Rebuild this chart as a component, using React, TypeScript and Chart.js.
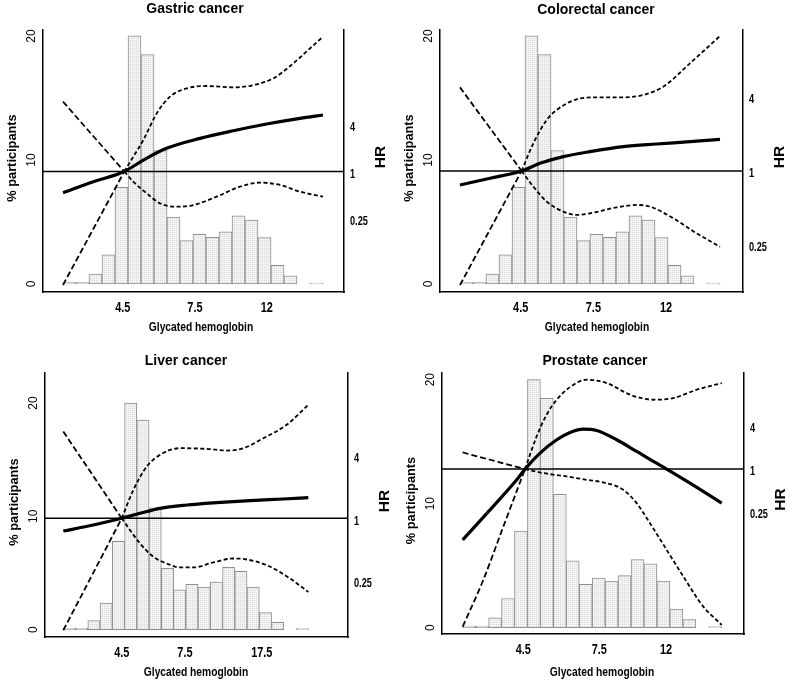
import React, { useEffect, useRef } from 'react';
import { Chart, registerables } from 'chart.js';

Chart.register(...registerables);

const W = 787;
const H = 682;
const SANS = '"Liberation Sans", Arial, sans-serif';

// ---------- data ----------
// Histogram of participants (%) across glycated haemoglobin bins (bin index axis)
const binCenters = [0.5, 1.5, 2.5, 3.5, 4.5, 5.5, 6.5, 7.5, 8.5, 9.5, 10.5, 11.5, 12.5, 13.5, 14.5, 15.5, 16.5, 17.5, 18.5, 19.5];
const participantsPct = [0.12, 0.12, 0.8, 2.35, 7.8, 20, 18.5, 10.75, 5.4, 3.5, 4.0, 3.76, 4.2, 5.5, 5.15, 3.75, 1.5, 0.65, 0, 0.08];

const pctTicks = [0, 10, 20];
const hrTicks = [0.25, 1, 4];
const hrTickLabels = ['0.25', '1', '4'];
const refHR = 1;

const titles = ['Gastric cancer', 'Colorectal cancer', 'Liver cancer', 'Prostate cancer'];
const xTitle = 'Glycated hemoglobin';
const yTitle = '% participants';
const hrTitle = 'HR';

const xTickLabelsStd = ['4.5', '7.5', '12'];
const xTickLabelsLiver = ['4.5', '7.5', '17.5'];
const gastricTickPos = [4.6, 10.15, 15.67];
const colorectalTickPos = [4.67, 10.26, 15.85];
const liverTickPos = [4.77, 9.93, 16.2];
const prostateTickPos = [4.68, 10.55, 15.7];

// Gastric cancer
const gastricCross = 4.72;
const gastricMainX = [0, 2.33, 4.72, 6.18, 7.97, 10.54, 13.1, 15.67, 18.23, 20];
const gastricMainHR = [0.536, 0.741, 1.0, 1.4, 1.98, 2.66, 3.33, 4.06, 4.8, 5.29];
const gastricUpX = [0, 4.72, 5.41, 6.18, 7.21, 8.23, 9.51, 11.05, 13.1, 14.64, 16.18, 17.72, 19.0, 20];
const gastricUpHR = [7.84, 1.0, 1.55, 2.53, 5.56, 9.09, 11.6, 12.45, 11.97, 12.8, 15.6, 24.3, 37.8, 53.4];
const gastricLoX = [0, 4.72, 5.41, 6.44, 7.46, 8.74, 10.03, 11.82, 13.62, 15.15, 16.69, 18.23, 20];
const gastricLoHR = [0.0352, 1.0, 0.741, 0.525, 0.391, 0.354, 0.372, 0.476, 0.64, 0.72, 0.672, 0.552, 0.476];

// Colorectal cancer
const colorectalCross = 4.74;
const colorectalMainX = [0, 2.31, 4.74, 6.15, 7.95, 10.0, 12.56, 15.13, 17.69, 20];
const colorectalMainHR = [0.769, 0.872, 1.0, 1.154, 1.308, 1.436, 1.577, 1.658, 1.732, 1.81];
const colorectalUpX = [0, 4.74, 5.64, 6.67, 7.44, 8.97, 10.51, 12.56, 14.1, 15.64, 17.69, 20];
const colorectalUpHR = [4.79, 1.0, 1.679, 2.6, 3.136, 3.829, 3.975, 3.975, 4.153, 4.854, 7.516, 12.54];
const colorectalLoX = [0, 4.74, 5.64, 6.67, 7.95, 8.97, 10.0, 12.05, 13.59, 14.62, 16.41, 18.2, 20];
const colorectalLoHR = [0.118, 1.0, 0.746, 0.563, 0.467, 0.439, 0.452, 0.506, 0.529, 0.513, 0.412, 0.311, 0.242];

// Liver cancer
const liverCross = 4.77;
const liverMainX = [0, 2.45, 4.77, 6.26, 7.89, 10.07, 12.52, 15.24, 17.96, 20];
const liverMainHR = [0.755, 0.862, 1.0, 1.117, 1.247, 1.343, 1.415, 1.479, 1.534, 1.58];
const liverUpX = [0, 4.77, 5.72, 6.81, 7.89, 9.53, 11.7, 13.34, 14.7, 16.33, 18.23, 20];
const liverUpHR = [6.83, 1.0, 1.873, 3.143, 4.072, 4.721, 4.651, 4.482, 4.721, 5.893, 7.921, 12.34];
const liverLoX = [0, 4.77, 6.26, 7.35, 8.44, 9.53, 10.62, 12.25, 13.88, 14.97, 16.6, 18.51, 20];
const liverLoHR = [0.0839, 1.0, 0.574, 0.427, 0.368, 0.337, 0.337, 0.377, 0.411, 0.402, 0.355, 0.264, 0.196];

// Prostate cancer
const prostateCross = 4.81;
const prostateMainX = [0, 2.11, 4.17, 4.81, 5.97, 7.26, 8.29, 9.32, 10.35, 11.89, 13.43, 14.72, 15.75, 17.55, 20];
const prostateMainHR = [0.1024, 0.269, 0.708, 1.0, 1.673, 2.572, 3.258, 3.628, 3.475, 2.572, 1.766, 1.279, 1.0, 0.636, 0.334];
const prostateUpX = [0, 4.81, 5.71, 6.48, 7.26, 8.29, 9.57, 11.12, 12.92, 14.72, 16.26, 18.07, 20];
const prostateUpHR = [1.71, 1.0, 2.864, 5.758, 9.34, 14.05, 17.8, 15.98, 10.97, 9.34, 9.85, 12.89, 15.98];
const prostateLoX = [0, 1.59, 3.14, 4.81, 6.23, 8.03, 9.57, 10.86, 12.4, 13.43, 14.46, 15.75, 17.04, 18.58, 20];
const prostateLoHR = [0.00626, 0.0282, 0.1574, 1.0, 0.879, 0.789, 0.708, 0.65, 0.513, 0.334, 0.175, 0.0742, 0.0314, 0.01194, 0.00661];

// ---------- layout per panel ----------
type Area = { left: number; right: number; top: number; bottom: number };
type PanelCfg = {
  title: string;
  area: Area;
  xRange: [number, number];
  pctRange: [number, number];
  hrRange: [number, number];
  tickPos: number[];
  tickLabels: string[];
  cross: number;
  main: [number[], number[]];
  up: [number[], number[]];
  lo: [number[], number[]];
  titlePos: [number, number];
  xTitlePos: [number, number];
};

const panels: PanelCfg[] = [
  {
    title: titles[0],
    area: { left: 43, right: 344, top: 30, bottom: 292 },
    xRange: [-1.538, 21.615],
    pctRange: [-0.645, 20.48],
    hrRange: [0.0286, 65.0],
    tickPos: gastricTickPos,
    tickLabels: xTickLabelsStd,
    cross: gastricCross,
    main: [gastricMainX, gastricMainHR],
    up: [gastricUpX, gastricUpHR],
    lo: [gastricLoX, gastricLoHR],
    titlePos: [195, 9],
    xTitlePos: [201, 327],
  },
  {
    title: titles[1],
    area: { left: 440, right: 743, top: 30, bottom: 292 },
    xRange: [-1.538, 21.77],
    pctRange: [-0.645, 20.48],
    hrRange: [0.1036, 14.03],
    tickPos: colorectalTickPos,
    tickLabels: xTickLabelsStd,
    cross: colorectalCross,
    main: [colorectalMainX, colorectalMainHR],
    up: [colorectalUpX, colorectalUpHR],
    lo: [colorectalLoX, colorectalLoHR],
    titlePos: [596, 10],
    xTitlePos: [597, 327],
  },
  {
    title: titles[2],
    area: { left: 45, right: 348, top: 373, bottom: 637 },
    xRange: [-1.494, 23.24],
    pctRange: [-0.655, 22.65],
    hrRange: [0.0723, 24.94],
    tickPos: liverTickPos,
    tickLabels: xTickLabelsLiver,
    cross: liverCross,
    main: [liverMainX, liverMainHR],
    up: [liverUpX, liverUpHR],
    lo: [liverLoX, liverLoHR],
    titlePos: [186, 361],
    xTitlePos: [196, 672],
  },
  {
    title: titles[3],
    area: { left: 442, right: 744, top: 373, bottom: 634 },
    xRange: [-1.598, 21.72],
    pctRange: [-0.51, 20.54],
    hrRange: [0.00494, 22.09],
    tickPos: prostateTickPos,
    tickLabels: xTickLabelsStd,
    cross: prostateCross,
    main: [prostateMainX, prostateMainHR],
    up: [prostateUpX, prostateUpHR],
    lo: [prostateLoX, prostateLoHR],
    titlePos: [595, 361],
    xTitlePos: [602, 672],
  },
];

function toPoints(xs: number[], ys: number[]) {
  return xs.map((x, i) => ({ x, y: ys[i] }));
}

function splitAt(xs: number[], ys: number[], cross: number) {
  const left: { x: number; y: number }[] = [];
  const right: { x: number; y: number }[] = [];
  xs.forEach((x, i) => {
    if (x <= cross) left.push({ x, y: ys[i] });
    if (x >= cross) right.push({ x, y: ys[i] });
  });
  return [left, right];
}

function makePattern(ctx: CanvasRenderingContext2D) {
  const c = document.createElement('canvas');
  c.width = 2;
  c.height = 2;
  const g = c.getContext('2d')!;
  g.fillStyle = '#f4f4f4';
  g.fillRect(0, 0, 2, 2);
  g.fillStyle = '#d9d9d9';
  g.fillRect(0, 0, 1, 1);
  return ctx.createPattern(c, 'repeat');
}

type TextOpts = { size: number; bold?: boolean; sx?: number; rotate?: number; align?: CanvasTextAlign };

function drawText(ctx: CanvasRenderingContext2D, text: string, x: number, y: number, o: TextOpts) {
  ctx.save();
  ctx.translate(x, y);
  if (o.rotate) ctx.rotate(o.rotate);
  ctx.scale(o.sx ?? 1, 1);
  ctx.font = `${o.bold ? 'bold ' : ''}${o.size}px ${SANS}`;
  ctx.textAlign = o.align ?? 'center';
  ctx.textBaseline = 'middle';
  ctx.fillStyle = '#000';
  ctx.fillText(text, 0, 0);
  ctx.restore();
}

function decorPlugin(p: PanelCfg) {
  return {
    id: 'decor',
    afterDraw(chart: any) {
      const ctx: CanvasRenderingContext2D = chart.ctx;
      const a = chart.chartArea;
      const ys = chart.scales.y;
      const xs = chart.scales.x;
      const hs = chart.scales.hr;
      const up = -Math.PI / 2;
      const mid = (a.top + a.bottom) / 2;
      // panel title
      drawText(ctx, p.title, p.titlePos[0], p.titlePos[1], { size: 14, bold: true });
      // x axis tick labels + title
      p.tickPos.forEach((v, i) =>
        drawText(ctx, p.tickLabels[i], xs.getPixelForValue(v), a.bottom + 16, { size: 14, bold: true, sx: 0.78 })
      );
      drawText(ctx, xTitle, p.xTitlePos[0], p.xTitlePos[1], { size: 13, bold: true, sx: 0.79 });
      // left axis tick labels + title
      pctTicks.forEach((v) => drawText(ctx, String(v), a.left - 11, ys.getPixelForValue(v), { size: 12, rotate: up }));
      drawText(ctx, yTitle, a.left - 31, mid - 3, { size: 12.8, bold: true, rotate: up });
      // right (HR) axis tick labels + title
      hrTicks.forEach((v, i) =>
        drawText(ctx, hrTickLabels[i], a.right + 6, hs.getPixelForValue(v) + 2.5, {
          size: 13.5,
          bold: true,
          sx: 0.68,
          align: 'left',
        })
      );
      drawText(ctx, hrTitle, a.right + 37, mid - 4, { size: 15.5, bold: true, rotate: up });
    },
  };
}

function buildConfig(p: PanelCfg, ctx: CanvasRenderingContext2D): any {
  const [upL, upR] = splitAt(p.up[0], p.up[1], p.cross);
  const [loL, loR] = splitAt(p.lo[0], p.lo[1], p.cross);
  const longDash = [6, 3];
  const shortDash = [4, 2.5];
  const dashed = (data: any[], dash: number[]) => ({
    type: 'line',
    data,
    xAxisID: 'x',
    yAxisID: 'hr',
    borderColor: '#000',
    borderWidth: 1.8,
    borderDash: dash,
    pointRadius: 0,
    cubicInterpolationMode: 'monotone',
    fill: false,
    order: 1,
  });
  const noGrid = { display: false, drawTicks: false };
  const axisLine = { display: true, color: '#000', width: 1.5 };
  return {
    type: 'bar',
    data: {
      datasets: [
        {
          type: 'bar',
          data: toPoints(binCenters, participantsPct),
          xAxisID: 'x',
          yAxisID: 'y',
          backgroundColor: makePattern(ctx),
          borderColor: '#8f8f8f',
          borderWidth: 1,
          borderSkipped: false,
          barPercentage: 1,
          categoryPercentage: 1,
          order: 10,
        },
        {
          type: 'line',
          data: [
            { x: p.xRange[0], y: refHR },
            { x: p.xRange[1], y: refHR },
          ],
          xAxisID: 'x',
          yAxisID: 'hr',
          borderColor: '#000',
          borderWidth: 1.5,
          pointRadius: 0,
          fill: false,
          order: 5,
        },
        {
          type: 'line',
          data: toPoints(p.main[0], p.main[1]),
          xAxisID: 'x',
          yAxisID: 'hr',
          borderColor: '#000',
          borderWidth: 3.2,
          pointRadius: 0,
          cubicInterpolationMode: 'monotone',
          fill: false,
          order: 0,
        },
        dashed(upL, longDash),
        dashed(upR, shortDash),
        dashed(loL, longDash),
        dashed(loR, shortDash),
      ],
    },
    options: {
      responsive: false,
      animation: false,
      events: [],
      layout: {
        padding: { left: p.area.left, top: p.area.top, right: W - p.area.right, bottom: H - p.area.bottom },
      },
      plugins: { legend: { display: false }, tooltip: { enabled: false }, title: { display: false } },
      scales: {
        x: {
          type: 'linear',
          position: 'bottom',
          offset: false,
          bounds: 'data',
          min: p.xRange[0],
          max: p.xRange[1],
          grid: noGrid,
          border: axisLine,
          ticks: { display: false },
          afterBuildTicks: (s: any) => {
            s.ticks = p.tickPos.map((v) => ({ value: v }));
          },
          afterFit: (s: any) => {
            s.height = 0;
          },
        },
        y: {
          type: 'linear',
          position: 'left',
          min: p.pctRange[0],
          max: p.pctRange[1],
          grid: noGrid,
          border: axisLine,
          ticks: { display: false },
          afterFit: (s: any) => {
            s.width = 0;
          },
        },
        hr: {
          type: 'logarithmic',
          position: 'right',
          min: p.hrRange[0],
          max: p.hrRange[1],
          grid: noGrid,
          border: axisLine,
          ticks: { display: false },
          afterBuildTicks: (s: any) => {
            s.ticks = hrTicks.map((v) => ({ value: v }));
          },
          afterFit: (s: any) => {
            s.width = 0;
          },
        },
      },
    },
    plugins: [decorPlugin(p)],
  };
}

function Panel({ cfg }: { cfg: PanelCfg }) {
  const ref = useRef<HTMLCanvasElement>(null);
  useEffect(() => {
    const canvas = ref.current!;
    const chart = new Chart(canvas, buildConfig(cfg, canvas.getContext('2d')!));
    return () => chart.destroy();
  }, [cfg]);
  return (
    <canvas
      ref={ref}
      width={W}
      height={H}
      style={{ position: 'absolute', left: 0, top: 0, width: W, height: H }}
    />
  );
}

export default function App() {
  return (
    <div
      style={{ position: 'absolute', left: 0, top: 0, width: W, height: H, background: '#fff', overflow: 'hidden' }}
    >
      {panels.map((p, i) => (
        <Panel key={i} cfg={p} />
      ))}
    </div>
  );
}
